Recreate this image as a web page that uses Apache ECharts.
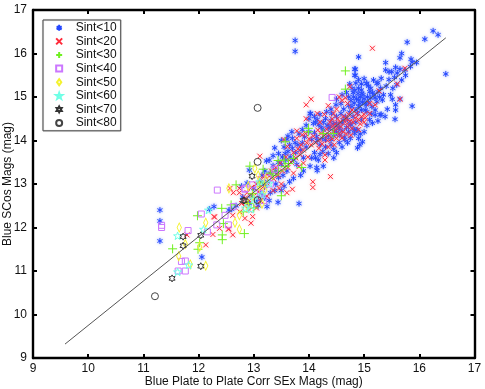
<!DOCTYPE html>
<html>
<head>
<meta charset="utf-8">
<style>html,body{margin:0;padding:0;background:#fff}#main{width:485px;height:389px}</style>
<script src="https://cdn.jsdelivr.net/npm/echarts@6/dist/echarts.min.js"></script>
</head>
<body>
<div id="main"></div>
<script>
var sint10 = [[13.75,16.3],[13.75,16.05],[16.25,16.52],[16.34,16.43],[15.78,16.26],[16.1,16.33],[16.48,15.53],[14.9,15.92],[14.83,15.64],[14.83,15.5],[15.68,16.0],[15.65,15.9],[15.85,15.87],[15.87,15.8],
[15.39,15.79],[15.39,15.62],[15.45,15.58],[15.5,15.58],[15.57,15.68],[15.65,15.64],[15.74,15.62],[15.84,15.7],[15.95,15.79],[15.68,15.39],[15.59,15.28],[15.52,15.2],[15.31,15.43],[15.17,15.39],[15.25,15.33],[15.04,15.31],[14.95,15.16],[14.83,15.16],[14.89,15.08],[14.98,15.05],[15.65,14.95],[15.51,14.95],[15.33,14.93],[15.57,14.82],[15.57,14.7],[15.87,14.79],[15.31,14.6],[15.56,14.49],[15.13,14.61],[14.87,14.24],[14.83,14.16],[15.04,14.82],[14.92,14.85],
[14.84,15.64],[14.84,15.5],[15.05,15.31],[15.23,15.31],[14.9,15.2],[14.96,15.08],[14.81,15.0],[14.9,14.93],[15.23,14.89],[15.02,14.85],[15.14,14.78],[15.05,14.66],[15.2,14.59],[14.02,14.62],[15.29,14.59],[14.87,14.24],[14.93,14.15],[14.75,14.39],[14.62,14.47],[14.5,14.39],[14.38,14.32],[14.26,14.24],[14.14,14.09],
[14.03,14.62],[14.49,14.82],[14.41,14.62],[14.08,14.39],[14.12,14.42],[14.18,14.36],[14.22,14.3],[14.26,14.42],[14.3,14.5],[14.33,14.35],[14.36,14.28],[14.4,14.46],[14.44,14.38],[14.46,14.22],[14.5,14.55],[14.53,14.3],[14.56,14.12],[14.58,14.62],[14.6,14.4],[14.63,14.72],[14.66,14.55],[14.7,14.48],[14.72,14.8],[14.74,14.65],[14.76,14.92],[14.78,14.78],[14.8,14.55],[14.82,14.86],[14.85,14.7],[14.86,14.96],[14.88,14.62],[14.9,14.78],[14.93,15.0],[14.95,14.7],[14.97,14.88],[15.0,14.96],[15.02,14.7],[15.06,15.0],[15.08,14.88],[15.1,15.12],[15.12,14.98],[15.18,15.05],[15.2,14.98],[15.25,15.12],[15.28,15.0],
[14.3,14.02],[14.35,14.1],[14.4,14.02],[14.45,14.1],[14.5,14.18],[14.55,14.28],[14.6,14.22],[14.64,14.08],[14.68,14.3],[14.72,14.2],[14.76,14.36],[14.8,14.26],[14.2,13.9],[14.25,14.05],[14.15,14.0],[14.1,14.18],[14.05,14.02],[14.0,14.2],[13.95,13.85],[13.92,14.08],[13.88,13.95],[13.85,13.78],[13.8,13.9],[13.76,13.72],[13.7,13.82],[13.66,13.62],[13.62,13.75],[13.58,13.55],[13.52,13.62],[13.5,13.45],[13.45,13.5],[13.4,13.3],[13.35,13.42],[13.3,13.25],
[13.69,14.2],[13.6,14.03],[13.38,13.83],[13.57,13.7],[13.72,13.55],[14.17,13.55],[14.02,13.41],[14.14,13.38],[14.15,13.31],[14.26,13.41],[13.23,13.53],[12.92,13.32],[13.82,12.55],[13.44,12.58],[13.24,12.48],[13.08,12.5],[14.97,13.97],[14.88,13.83],[14.92,13.9],[14.83,14.24],[13.72,13.13],[13.53,13.2],[13.2,12.95],[13.25,13.05],[13.3,12.8],[13.15,12.8],[13.12,13.05],[13.4,13.0],[13.45,13.15],[13.1,12.68],[13.28,12.62],[13.0,12.9],[12.95,12.72],
[14.05,13.6],[14.1,13.72],[14.3,13.85],[14.25,13.75],[14.4,13.9],[13.9,13.6],[13.78,13.45],[14.65,14.02],[14.55,13.95],
[12.78,12.95],[12.88,13.02],[12.68,12.5],[12.6,12.42],[12.92,12.55],[12.8,12.7],[12.28,12.48],[12.2,12.42],[12.55,12.4],
[11.3,12.4],[11.3,12.15],[11.3,11.69],[12.06,11.32],
[14.0,14.5],[14.1,14.55],[14.2,14.6],[14.15,14.48],[14.32,14.66],[14.4,14.72],[14.5,14.95],[14.58,14.85],[14.6,15.05],[14.68,15.1],[14.72,15.0],[14.78,15.2],[14.74,15.3],[14.8,15.1],[14.85,15.32],[14.9,15.4],[14.95,15.3],[15.0,15.42],[15.08,15.25],[15.12,15.2],[15.15,15.1],[15.3,15.2],[15.35,15.05],[15.4,15.25],[15.45,15.4],[15.48,15.05],[15.55,15.45],[15.6,15.55],[15.75,15.5],
[14.12,13.6],[14.2,13.68],[14.35,13.7],[14.45,13.8],[14.5,13.72],[14.6,13.85],[14.7,13.95],[14.75,14.05],[14.9,14.05],[15.0,14.2],[15.05,14.35],[15.15,14.4],[15.25,14.45],[15.38,14.55],[15.42,14.72],[15.2,14.7],[15.1,14.48],[14.85,14.42],[14.95,14.48],[14.45,13.6],
[13.5,14.0],[13.62,14.1],[13.7,14.05],[13.82,14.15],[13.88,14.25],[13.95,14.35],[13.75,13.95],[13.65,13.9],[13.55,13.85],[13.45,13.7],[13.35,13.65],[13.28,13.55],[13.2,13.3],[13.15,13.2],
[13.9,13.3],[13.85,13.2],[13.6,13.3],[13.65,13.05],[13.55,12.95],[13.38,12.85],[13.05,12.6],[13.2,12.68],[13.5,12.85]];
var sint20 = [[14.04,14.95],[13.95,14.82],[14.15,14.62],[13.78,14.22],[13.88,14.13],[13.78,14.05],[13.61,13.86],[14.29,13.67],[14.29,13.55],[14.07,13.05],[14.07,12.92],[14.39,13.17],[13.7,12.88],[13.6,12.8],[13.11,13.64],[14.74,15.24],[15.15,16.12],[15.74,15.66],[15.6,15.3],[15.65,14.95],[15.27,15.14],[15.1,14.85],[15.0,14.6],
[14.35,14.8],[14.45,14.62],[14.55,15.0],[14.6,14.92],[14.66,14.98],[14.7,14.85],[14.72,14.6],[14.78,14.7],[14.5,14.72],[14.42,14.5],[14.38,14.42],[14.48,14.38],[14.52,14.5],[14.56,14.42],[14.58,14.32],[14.62,14.55],[14.66,14.42],[14.68,14.5],[14.7,14.32],[14.74,14.44],[14.78,14.28],[14.8,14.42],[14.84,14.52],[14.86,14.62],[14.9,14.48],[14.93,14.38],[14.62,14.2],[14.55,14.16],[14.5,14.28],[14.45,14.2],[14.42,14.32],[14.36,14.14],[14.32,14.26],[14.28,14.12],[14.22,14.16],[14.2,14.02],[14.16,14.24],[14.12,13.95],[14.08,14.1],[14.04,13.9],[14.0,14.04],[13.96,13.95],[13.94,14.16],[13.9,13.78],[13.86,13.9],[13.84,13.68],[13.8,13.8],[13.76,13.6],[13.72,13.72],[14.18,13.82],[14.24,13.92],[14.34,14.0],[14.42,14.04],[14.5,14.05],[14.6,14.06],[14.68,14.15],
[13.68,13.5],[13.62,13.38],[13.58,13.62],[13.52,13.3],[13.48,13.48],[13.44,13.2],[13.4,13.38],[13.36,13.12],[13.32,13.3],[13.28,13.18],[13.24,13.02],[13.2,13.18],[13.16,12.92],[13.12,13.12],[13.08,12.82],[13.04,13.0],[13.0,12.72],[12.96,12.92],[12.92,12.62],[12.88,12.8],[12.84,12.5],[13.12,12.62],[13.24,12.72],[13.35,12.85],[13.5,13.0],[13.46,12.9],[13.82,13.4],[13.9,13.48],[13.98,13.62],[13.72,13.25],
[12.57,12.9],[12.63,12.8],[12.74,12.9],[12.74,12.8],[12.28,12.25],[12.29,12.24],[12.38,11.98],[12.26,11.84],[12.13,11.6],[11.79,11.83],[12.54,11.96],[12.62,11.83],[12.84,12.21],[12.62,12.28],[12.75,12.36],[12.55,11.97],[12.92,12.4],[12.98,12.25],[13.05,12.45],[12.95,12.1],[12.85,12.68],[12.78,12.55],
[14.9,14.25],[14.95,14.55],[15.02,14.52],[15.1,14.62],[15.2,14.82],[15.0,14.42],[14.76,14.12],[14.46,13.9],[14.35,13.85],[13.55,14.02],[13.95,14.5],[14.2,14.42],[14.28,14.6]];
var sint30 = [[11.53,11.51],[11.99,11.5],[12.02,11.65],[11.98,12.27],[12.42,12.44],[12.68,12.98],[12.43,11.83],[12.43,11.72],[12.83,11.86],[12.59,12.52],[12.81,12.36],[12.45,12.09],[13.99,14.28],[13.99,14.2],[13.57,13.97],[13.44,13.54],[13.57,13.4],[13.87,13.38],[12.93,13.41],[13.17,13.34],[13.5,12.73],[14.66,15.6],[14.66,15.18],[14.26,14.16],[14.44,14.16],[13.72,13.59],[13.63,13.47],[13.55,13.55],[13.1,13.02],[12.9,12.55],[13.3,13.25],[13.0,12.45],[13.2,13.05],[13.35,13.2],[13.45,13.3],[12.98,12.78]];
var sint40 = [[12.34,12.86],[12.05,12.31],[11.33,12.0],[11.33,12.05],[11.81,11.93],[12.16,11.9],[12.33,12.06],[12.54,12.06],[12.63,12.48],[12.84,12.9],[11.69,11.22],[11.76,11.23],[11.63,11.0],[11.76,11.0],[12.48,12.28],[14.42,14.99],[13.38,13.34],[12.84,12.88],[13.25,13.13],[13.12,12.78],[12.98,12.98],[13.18,12.62],[13.3,13.0]];
var sint50 = [[11.65,12.0],[12.13,12.11],[12.02,11.56],[11.76,11.62],[11.64,11.34],[11.85,11.15],[12.13,11.12],[12.55,12.9],[12.66,12.11],[12.74,11.96],[12.74,12.28],[13.02,13.36],[13.08,13.2],[13.2,12.86],[12.88,12.5],[13.15,12.55],[12.98,12.72],[13.1,12.95],[13.22,13.1],[12.9,12.95]];
var sint60 = [[11.62,11.81],[12.09,11.96],[12.18,12.4],[11.82,11.14],[11.62,10.98],[13.11,13.05],[12.95,12.42],[13.0,12.65],[12.85,12.45],[13.15,12.75],[13.28,13.02]];
var sint70 = [[11.72,11.79],[11.72,11.58],[12.04,11.82],[12.04,11.11],[11.52,10.83],[12.83,12.62],[12.97,13.18],[12.81,12.62]];
var sint80 = [[13.07,14.75],[11.21,10.42],[13.07,13.51],[13.07,12.63]];
var fitLine = [[9.58,9.32],[16.48,16.36]];
var seriesNames = ['Sint<10','Sint<20','Sint<30','Sint<40','Sint<50','Sint<60','Sint<70','Sint<80'];

var chart = echarts.init(document.getElementById('main'), null, {renderer:'canvas'});

var asterisk = 'path://M5 0L5 10M0.7 2.5L9.3 7.5M0.7 7.5L9.3 2.5';
var cross = 'path://M0 0L10 10M0 10L10 0';
var plus = 'path://M5 0L5 10M0 5L10 5';
var square = 'path://M0 0L10 0L10 10L0 10Z';
var diamond = 'path://M5 0L10 7L5 14L0 7Z';
var star5 = 'path://M5 0L6.2 3.6L10 3.6L7 5.9L8.1 9.5L5 7.3L1.9 9.5L3 5.9L0 3.6L3.8 3.6Z';
var star6 = 'path://M5 0L6.3 2.5L9.3 2.5L7.7 5L9.3 7.5L6.3 7.5L5 10L3.7 7.5L0.7 7.5L2.3 5L0.7 2.5L3.7 2.5Z';

function sc(name, data, symbol, size, color, bw, glow) {
	return {
		name: name,
		type: 'scatter',
		data: data,
		symbol: symbol,
		symbolSize: size,
		symbolKeepAspect: true,
		itemStyle: {
			color: 'transparent',
			borderColor: color,
			borderWidth: bw,
			opacity: 1,
			shadowBlur: glow ? 3 : 0,
			shadowColor: glow || 'transparent'
		},
		emphasis: {disabled: true},
		animation: false
	};
}

var axisLine = {lineStyle: {color: '#000', width: 2.4}};
var axisTick = {inside: true, length: 4, lineStyle: {color: '#000', width: 2}};

var option = {
	backgroundColor: '#fff',
	animation: false,
	textStyle: {fontFamily: 'Liberation Sans', color: '#000'},
	grid: {left: 33, top: 10, width: 441.5, height: 348, outerBoundsMode: 'none'},
	legend: {
		left: 43, top: 20,
		orient: 'vertical',
		padding: [1, 4, 1, 12],
		itemWidth: 21, itemHeight: 6, itemGap: 0,
		backgroundColor: '#fff',
		borderColor: '#555', borderWidth: 1,
		shadowColor: 'rgba(0,0,0,0.3)', shadowBlur: 1,
		textStyle: {fontSize: 12, color: '#111', lineHeight: 13.6, padding: [0, 0, 0, 1]},
		data: seriesNames
	},
	xAxis: [{
		type: 'value', min: 9, max: 17, interval: 1,
		name: 'Blue Plate to Plate Corr SEx Mags (mag)',
		nameLocation: 'middle', nameGap: 18, nameMoveOverlap: false,
		nameTextStyle: {fontSize: 12, color: '#111'},
		axisLine: axisLine,
		axisTick: axisTick,
		axisLabel: {fontSize: 12, color: '#111', margin: 5},
		splitLine: {show: false}
	}, {
		type: 'value', min: 9, max: 17, interval: 1, position: 'top',
		axisLine: axisLine,
		axisTick: axisTick,
		axisLabel: {show: false}, splitLine: {show: false}
	}],
	yAxis: [{
		type: 'value', min: 9, max: 17, interval: 1,
		name: 'Blue SCos Mags (mag)',
		nameLocation: 'middle', nameGap: 19, nameMoveOverlap: false,
		nameTextStyle: {fontSize: 12, color: '#111'},
		axisLine: axisLine,
		axisTick: axisTick,
		axisLabel: {fontSize: 12, color: '#111', margin: 6},
		splitLine: {show: false}
	}, {
		type: 'value', min: 9, max: 17, interval: 1, position: 'right',
		axisLine: axisLine,
		axisTick: axisTick,
		axisLabel: {show: false}, splitLine: {show: false}
	}],
	series: [
		sc(seriesNames[0], sint10, asterisk, 6, '#2447ff', 1, 'rgba(90,120,255,0.8)'),
		sc(seriesNames[1], sint20, cross, 5, '#ff2a3a', 1, 'rgba(255,120,130,0.5)'),
		sc(seriesNames[2], sint30, plus, 9, '#70f020', 1),
		sc(seriesNames[3], sint40, square, 6, '#cc77ff', 1),
		sc(seriesNames[4], sint50, diamond, [6, 9], '#f4f230', 1),
		sc(seriesNames[5], sint60, star5, 8, '#70ffe6', 1),
		sc(seriesNames[6], sint70, star6, 7, '#333', 1),
		sc(seriesNames[7], sint80, 'circle', 7, '#444', 1),
		{
			type: 'line', data: fitLine, showSymbol: false, symbol: 'none', silent: true,
			lineStyle: {color: '#555', width: 1},
			animation: false
		}
	]
};
chart.setOption(option);
</script>
</body>
</html>
